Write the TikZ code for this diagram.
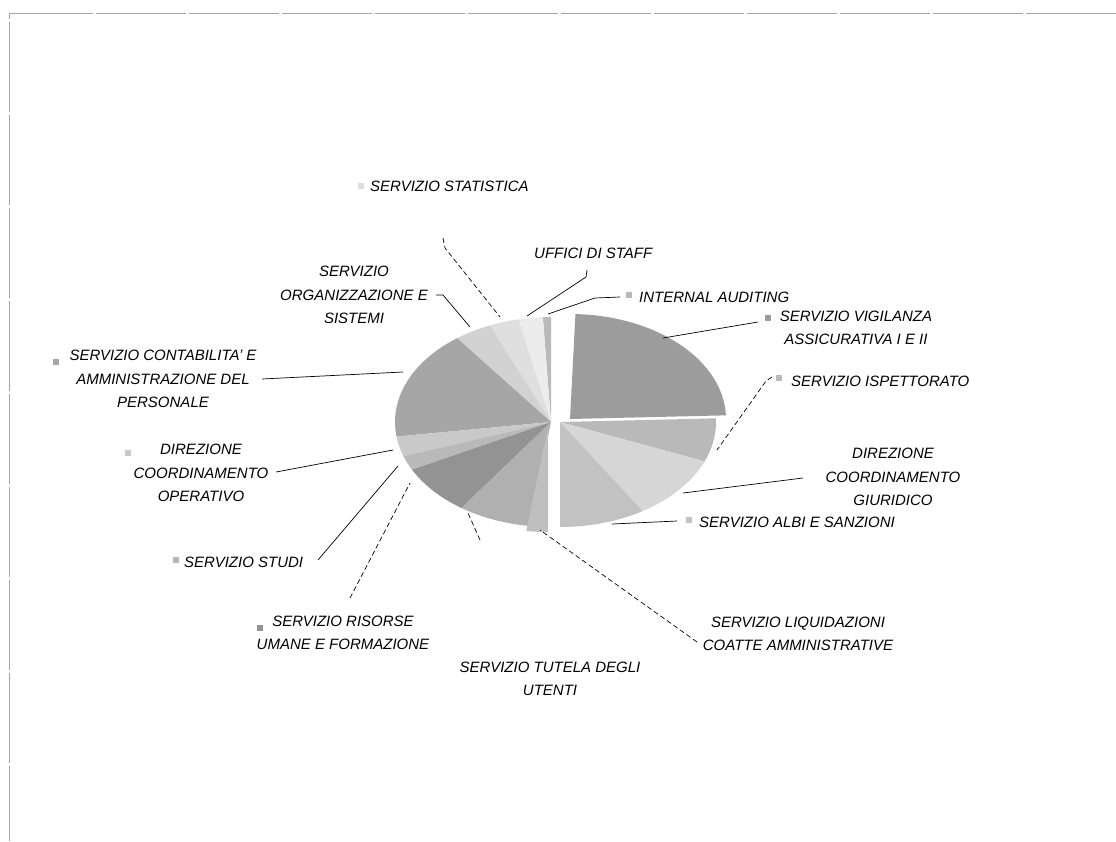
\documentclass[tikz,border=0pt]{standalone}
\usepackage{fontspec}
\setmainfont{Liberation Sans}
\newcommand{\pieslice}[5]{\fill[#5] (#1,#2) -- plot[domain=#3:#4,samples=40,variable=\t] ({#1+156*cos(\t)},{#2-105*sin(\t)}) -- cycle;}
\begin{document}
\begin{tikzpicture}[x=1pt,y=-1pt,
  lbl/.style={font=\fontsize{15}{23.5}\selectfont\itshape, inner sep=0pt, align=center},
  lead/.style={draw=black, line width=0.7pt},
  dlead/.style={lead, dash pattern=on 5pt off 3pt},
  keybox/.style={minimum width=6pt, minimum height=6pt, inner sep=0pt}]
\useasboundingbox (0,0) rectangle (1116,841);
% frame
\draw[gray!70, line width=0.6pt, dash pattern=on 90pt off 3pt] (1116,13) -- (9,13) -- (9,841);
% pie: left group
\pieslice{551}{422}{90}{93}{gray!55}
\pieslice{551}{422}{93}{102}{gray!15}
\pieslice{551}{422}{102}{113}{gray!25}
\pieslice{551}{422}{113}{127}{gray!35}
\pieslice{551}{422}{127}{188}{gray!70}
\pieslice{551}{422}{188}{199}{gray!42}
\pieslice{551}{422}{199}{207}{gray!55}
\pieslice{551}{422}{207}{235}{gray!85}
\pieslice{551}{422}{235}{262}{gray!62}
\pieslice{548}{427}{262}{270}{gray!50}
% pie: right group
\pieslice{570}{419}{88}{2}{gray!78}
\pieslice{560}{422}{2}{-22}{gray!55}
\pieslice{560}{422}{-22}{-58}{gray!32}
\pieslice{560}{422}{-58}{-90}{gray!48}
% labels
\node[lbl, anchor=west] (stat) at (370,186) {SERVIZIO STATISTICA};
\node[lbl, anchor=west] (staff) at (534,253) {UFFICI DI STAFF};
\node[lbl] (org) at (354,295) {SERVIZIO\\ORGANIZZAZIONE E\\SISTEMI};
\node[lbl] (cont) at (163,379) {SERVIZIO CONTABILITA' E\\AMMINISTRAZIONE DEL\\PERSONALE};
\node[lbl] (oper) at (201,473) {DIREZIONE\\COORDINAMENTO\\OPERATIVO};
\node[lbl, anchor=west] (studi) at (184,562) {SERVIZIO STUDI};
\node[lbl] (ris) at (343,633) {SERVIZIO RISORSE\\UMANE E FORMAZIONE};
\node[lbl] (tut) at (550,679) {SERVIZIO TUTELA DEGLI\\UTENTI};
\node[lbl] (liq) at (798,634) {SERVIZIO LIQUIDAZIONI\\COATTE AMMINISTRATIVE};
\node[lbl, anchor=west] (albi) at (699,522) {SERVIZIO ALBI E SANZIONI};
\node[lbl] (giur) at (893,477) {DIREZIONE\\COORDINAMENTO\\GIURIDICO};
\node[lbl, anchor=west] (isp) at (791,381) {SERVIZIO ISPETTORATO};
\node[lbl] (vig) at (856,328) {SERVIZIO VIGILANZA\\ASSICURATIVA I E II};
\node[lbl, anchor=west] (aud) at (639,297) {INTERNAL AUDITING};
% legend keys
\node[keybox, fill=gray!25] (kstat) at (361,186) {};
\node[keybox, fill=gray!70] (kcont) at (56,362) {};
\node[keybox, fill=gray!42] (koper) at (128,453) {};
\node[keybox, fill=gray!55] (kstudi) at (176,560) {};
\node[keybox, fill=gray!85] (kris) at (260,628) {};
\node[keybox, fill=gray!48] (kalbi) at (689,520) {};
\node[keybox, fill=gray!55] (kisp) at (779,378) {};
\node[keybox, fill=gray!78] (kvig) at (768,318) {};
\node[keybox, fill=gray!55] (kaud) at (629,295) {};
% leader coordinates
\coordinate (a-stat) at (443,238); \coordinate (b-stat) at (445,248); \coordinate (p-stat) at (500,317);
\coordinate (a-staff) at (587,270); \coordinate (b-staff) at (586,277); \coordinate (p-staff) at (527,316);
\coordinate (a-org) at (436,295); \coordinate (b-org) at (443,295); \coordinate (p-org) at (470,327);
\coordinate (a-cont) at (262,379); \coordinate (p-cont) at (403,372);
\coordinate (a-oper) at (276,472); \coordinate (p-oper) at (393,450);
\coordinate (a-studi) at (318,560); \coordinate (p-studi) at (398,466);
\coordinate (a-ris) at (350,598); \coordinate (p-ris) at (410,483);
\coordinate (a-tut) at (480,540); \coordinate (p-tut) at (468,513);
\coordinate (a-liq) at (697,642); \coordinate (p-liq) at (540,530);
\coordinate (a-albi) at (677,521); \coordinate (p-albi) at (612,524);
\coordinate (a-giur) at (803,478); \coordinate (p-giur) at (683,493);
\coordinate (a-isp) at (772,377); \coordinate (b-isp) at (766,381); \coordinate (p-isp) at (717,450);
\coordinate (a-vig) at (758,322); \coordinate (p-vig) at (663,338);
\coordinate (a-aud) at (620,297); \coordinate (b-aud) at (595,298); \coordinate (p-aud) at (548,314);
% leaders
\draw[dlead] (a-stat) -- (b-stat) -- (p-stat);
\draw[lead] (a-staff) -- (b-staff) -- (p-staff);
\draw[lead] (a-org) -- (b-org) -- (p-org);
\draw[lead] (a-cont) -- (p-cont);
\draw[lead] (a-oper) -- (p-oper);
\draw[lead] (a-studi) -- (p-studi);
\draw[dlead] (a-ris) -- (p-ris);
\draw[dlead] (a-tut) -- (p-tut);
\draw[dlead] (a-liq) -- (p-liq);
\draw[lead] (a-albi) -- (p-albi);
\draw[lead] (a-giur) -- (p-giur);
\draw[dlead] (a-isp) -- (b-isp) -- (p-isp);
\draw[lead] (a-vig) -- (p-vig);
\draw[lead] (a-aud) -- (b-aud) -- (p-aud);
\end{tikzpicture}
\end{document}
